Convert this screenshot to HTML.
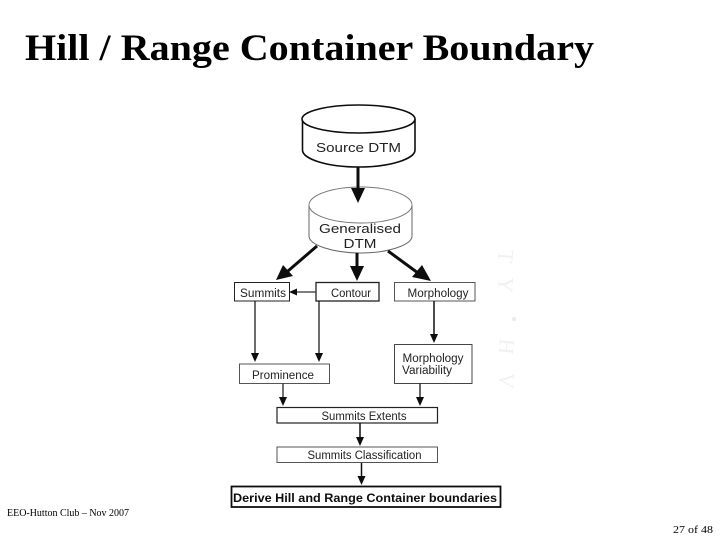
<!DOCTYPE html>
<html><head><meta charset="utf-8"><style>
html,body{margin:0;padding:0;background:#fff}
svg{display:block}
text{font-family:"Liberation Sans",sans-serif;fill:#222}
.s{font-family:"Liberation Serif",serif;fill:#000}
.w{font-family:"Liberation Serif",serif;fill:#f1f1f1;font-size:22px}
</style></head><body>
<svg width="720" height="540" viewBox="0 0 720 540" xmlns="http://www.w3.org/2000/svg">
<defs>
<filter id="b" x="-5%" y="-5%" width="110%" height="110%"><feGaussianBlur stdDeviation="0.35"/></filter>
</defs>
<rect width="720" height="540" fill="#fff"/>
<text class="s" x="25" y="60" font-size="37" font-weight="bold" textLength="569" lengthAdjust="spacingAndGlyphs">Hill / Range Container Boundary</text>

<text class="w" transform="translate(499,249) rotate(95)">T</text>
<text class="w" transform="translate(499,276) rotate(95)">Y</text>
<circle cx="514" cy="319" r="2.2" fill="#ececec"/>
<text class="w" transform="translate(500,338) rotate(95)">H</text>
<text class="w" transform="translate(500,372) rotate(95)">V</text>

<g filter="url(#b)">
<!-- Source DTM -->
<path d="M302.500 119 V150 C302.500 159 327 167 358.500 167 C390 167 415 159 415 150 V119" fill="#fff" stroke="#111" stroke-width="1.600"/>
<ellipse cx="358.500" cy="119" rx="56.500" ry="14" fill="#fff" stroke="#111" stroke-width="1.600"/>
<text x="358.500" y="152" font-size="13" text-anchor="middle" textLength="85" lengthAdjust="spacingAndGlyphs">Source DTM</text>

<!-- Generalised DTM -->
<path d="M309 205 V236 C309 245 333 253 360.500 253 C388 253 412 245 412 236 V205" fill="#fff" stroke="#666" stroke-width="1"/>
<ellipse cx="360.500" cy="205" rx="51.500" ry="18" fill="#fff" stroke="#777" stroke-width="0.900"/>
<text x="360" y="233" font-size="13" text-anchor="middle" textLength="82" lengthAdjust="spacingAndGlyphs">Generalised</text>
<text x="360" y="248" font-size="13" text-anchor="middle" textLength="33" lengthAdjust="spacingAndGlyphs">DTM</text>

<!-- Boxes -->
<g fill="#fff">
<rect x="234.500" y="282.500" width="55" height="18.500" stroke="#222" stroke-width="1"/>
<rect x="316" y="282.500" width="63" height="18.500" stroke="#222" stroke-width="1.300"/>
<rect x="394.500" y="282.500" width="80.500" height="18.500" stroke="#555" stroke-width="1"/>
<rect x="239.500" y="364" width="90" height="19.500" stroke="#555" stroke-width="1"/>
<rect x="394.500" y="344.500" width="77.500" height="39" stroke="#444" stroke-width="1"/>
<rect x="277" y="407.500" width="160.500" height="15.500" stroke="#222" stroke-width="1.200"/>
<rect x="277" y="447" width="160.500" height="15.500" stroke="#555" stroke-width="1"/>
<rect x="231.500" y="486.500" width="269" height="20.500" stroke="#111" stroke-width="1.800"/>
</g>
<text x="263" y="297" font-size="11.500" text-anchor="middle" textLength="46" lengthAdjust="spacingAndGlyphs">Summits</text>
<text x="351" y="297" font-size="11.500" text-anchor="middle" textLength="40" lengthAdjust="spacingAndGlyphs">Contour</text>
<text x="438" y="297" font-size="11.500" text-anchor="middle" textLength="61" lengthAdjust="spacingAndGlyphs">Morphology</text>
<text x="283" y="379" font-size="11.500" text-anchor="middle" textLength="62" lengthAdjust="spacingAndGlyphs">Prominence</text>
<text x="433" y="362" font-size="11.500" text-anchor="middle" textLength="61" lengthAdjust="spacingAndGlyphs">Morphology</text>
<text x="427" y="374" font-size="11.500" text-anchor="middle" textLength="50" lengthAdjust="spacingAndGlyphs">Variability</text>
<text x="364" y="420" font-size="11.500" text-anchor="middle" textLength="85" lengthAdjust="spacingAndGlyphs">Summits Extents</text>
<text x="364.500" y="459" font-size="11.500" text-anchor="middle" textLength="114" lengthAdjust="spacingAndGlyphs">Summits Classification</text>
<text x="365" y="502" font-size="11.800" font-weight="bold" text-anchor="middle" textLength="264" lengthAdjust="spacingAndGlyphs" style="fill:#111">Derive Hill and Range Container boundaries</text>

<!-- Connectors -->
<g stroke="#111" fill="none">
<line x1="358" y1="167" x2="358" y2="190" stroke-width="3"/>
<line x1="317" y1="246" x2="288" y2="271" stroke-width="3"/>
<line x1="357" y1="253" x2="357" y2="268" stroke-width="3"/>
<line x1="388" y1="251" x2="418" y2="273" stroke-width="3"/>
<line x1="316" y1="292" x2="296" y2="292" stroke-width="1.200" stroke="#333"/>
<line x1="255" y1="301" x2="255" y2="356" stroke-width="1.200"/>
<line x1="319" y1="301" x2="319" y2="356" stroke-width="1.200"/>
<line x1="434" y1="301" x2="434" y2="336" stroke-width="1.500"/>
<line x1="283" y1="383" x2="283" y2="399" stroke-width="1.500" stroke="#444"/>
<line x1="420" y1="383" x2="420" y2="399" stroke-width="1.500" stroke="#333"/>
<line x1="360" y1="423" x2="360" y2="439" stroke-width="1.500"/>
<line x1="361.500" y1="463" x2="361.500" y2="478" stroke-width="1.500"/>
</g>
<!-- Arrowheads -->
<g fill="#111">
<polygon points="351,188 365,188 358,203"/>
<polygon points="276,280 283,265 293,276"/>
<polygon points="350,266 364,266 357,281"/>
<polygon points="431,281 412,277 422,265"/>
<polygon points="289,292 297,288.500 297,295.500"/>
<polygon points="251,353 259,353 255,362"/>
<polygon points="315,353 323,353 319,362"/>
<polygon points="430,334 438,334 434,343"/>
<polygon points="279,397 287,397 283,406"/>
<polygon points="416,397 424,397 420,406"/>
<polygon points="356,437 364,437 360,446"/>
<polygon points="357.500,476 365.500,476 361.500,485"/>
</g>
</g>

<text class="s" x="7" y="516" font-size="10" textLength="122" lengthAdjust="spacingAndGlyphs">EEO-Hutton Club – Nov 2007</text>
<text class="s" x="673" y="533" font-size="11" textLength="40" lengthAdjust="spacingAndGlyphs">27 of 48</text>
</svg>
</body></html>
